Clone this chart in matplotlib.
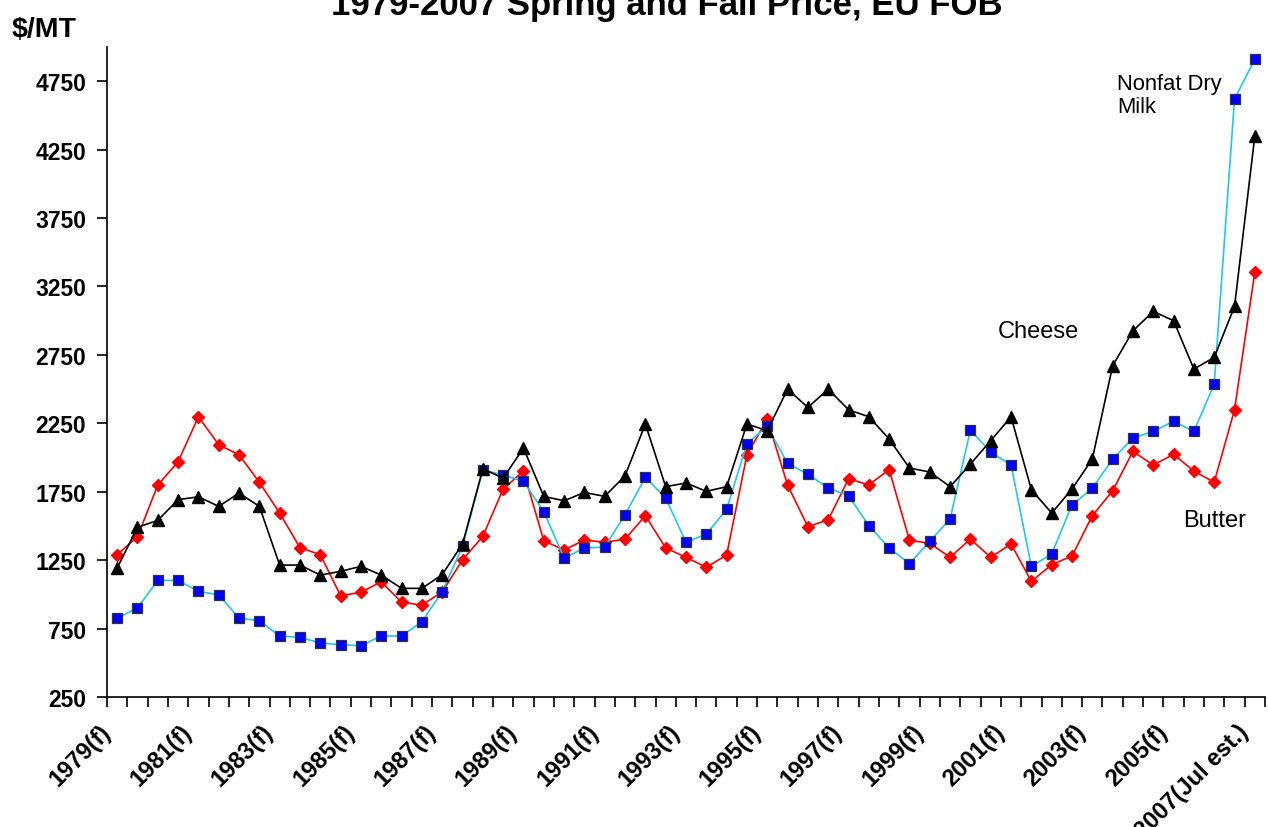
import matplotlib
matplotlib.use("Agg")
import matplotlib.pyplot as plt
import matplotlib.transforms as mtransforms
import numpy as np

plt.rcParams['font.family'] = ['Liberation Sans', 'DejaVu Sans']

categories = []
for i in range(57):
    # index 0 = 1979(f), then alternating spring/fall
    if i == 56:
        categories.append("2007(Jul est.)")
    else:
        y = 1979 + (i + 1) // 2
        categories.append(f"{y}(f)" if i % 2 == 0 else f"{y}(s)")

cheese = [1192, 1490, 1541, 1692, 1713, 1643, 1740, 1643, 1214, 1214,
          1141, 1168, 1205, 1141, 1044, 1044, 1144, 1368, 1916, 1850,
          2069, 1716, 1684, 1745, 1716, 1867, 2245, 1787, 1814, 1753,
          1787, 2245, 2196, 2500, 2366, 2500, 2349, 2298, 2135, 1923,
          1894, 1787, 1952, 2123, 2298, 1765, 1594, 1770, 1989, 2670,
          2926, 3068, 3000, 2646, 2732, 3104, 4351]

nfdm = [827, 900, 1102, 1102, 1022, 997, 827, 807, 696, 686,
        645, 632, 625, 696, 696, 800, 1020, 1350, 1911, 1872,
        1826, 1604, 1266, 1339, 1346, 1582, 1855, 1704, 1380, 1441,
        1621, 2101, 2228, 1957, 1878, 1777, 1721, 1502, 1339, 1224,
        1388, 1550, 2201, 2038, 1947, 1204, 1295, 1653, 1775, 1989,
        2142, 2191, 2264, 2191, 2537, 4619, 4911]

butter = [1290, 1421, 1799, 1969, 2298, 2093, 2020, 1819, 1594, 1341,
          1290, 990, 1015, 1092, 942, 922, 1017, 1252, 1424, 1770,
          1901, 1392, 1324, 1397, 1380, 1404, 1575, 1339, 1271, 1198,
          1287, 2020, 2281, 1799, 1494, 1545, 1843, 1801, 1911, 1395,
          1373, 1271, 1404, 1271, 1368, 1095, 1217, 1280, 1575, 1757,
          2045, 1945, 2023, 1901, 1819, 2349, 3355]

yticks = [250, 750, 1250, 1750, 2250, 2750, 3250, 3750, 4250, 4750]
label_idx = list(range(0, 57, 4))

fig = plt.figure(figsize=(12.68, 8.28), dpi=100)
ax = fig.add_axes([107 / 1268, 1 - 698 / 828, (1265 - 107) / 1268, (698 - 48) / 828])

x = np.arange(len(categories))
ax.plot(x, butter, color='#FF0000', lw=1.2, marker='D', markersize=6.5,
        markerfacecolor='#FF0000', markeredgecolor='#FF0000', zorder=3)
ax.plot(x, nfdm, color='#1EC8F0', lw=1.2, marker='s', markersize=7,
        markerfacecolor='#0000FF', markeredgecolor='#333333', markeredgewidth=0.9, zorder=4)
ax.plot(x, cheese, color='black', lw=1.2, marker='^', markersize=8.5,
        markerfacecolor='black', markeredgecolor='black', zorder=5)

ax.set_xlim(-0.5, 56.5)
ax.set_ylim(250, 5000)
ax.set_yticks(yticks)
ax.set_yticklabels([str(v) for v in yticks], fontsize=16.5, fontweight='bold')
ax.tick_params(axis='y', direction='out', length=7, width=1.2, pad=8)

ax.set_xticks(np.arange(-0.5, 57, 1))
ax.set_xticklabels([])
ax.tick_params(axis='x', which='major', direction='out', length=7, width=1.2)
ax.set_xticks(label_idx, minor=True)
ax.set_xticklabels([categories[i] for i in label_idx], minor=True, rotation=45,
                   ha='right', va='center', rotation_mode='anchor',
                   fontsize=17, fontweight='bold')
ax.tick_params(axis='x', which='minor', length=0, pad=22)
shift = mtransforms.ScaledTranslation(-10 / 100, 0, fig.dpi_scale_trans)
for lbl in ax.get_xticklabels(minor=True):
    lbl.set_transform(lbl.get_transform() + shift)

for s in ['top', 'right']:
    ax.spines[s].set_visible(False)
for s in ['left', 'bottom']:
    ax.spines[s].set_linewidth(1.2)

fig.text(12 / 1268, 1 - 37 / 828, "$/MT", fontsize=20.5, fontweight='bold', ha='left', va='baseline')
fig.text(667 / 1268, 1 - 15 / 828, "1979-2007 Spring and Fall Price, EU FOB",
         fontsize=25, fontweight='bold', ha='center', va='baseline')

ax.annotate("Cheese", xy=(998 / 1268, 1 - 338 / 828), xycoords='figure fraction',
            fontsize=17, ha='left', va='baseline')
ax.annotate("Butter", xy=(1183 / 1268, 1 - 527 / 828), xycoords='figure fraction',
            fontsize=17, ha='left', va='baseline')
ax.annotate("Nonfat Dry\nMilk", xy=(1117 / 1268, 1 - 74 / 828), xycoords='figure fraction',
            fontsize=15.8, ha='left', va='top', linespacing=1.1)

fig.savefig("out.png", dpi=100)
